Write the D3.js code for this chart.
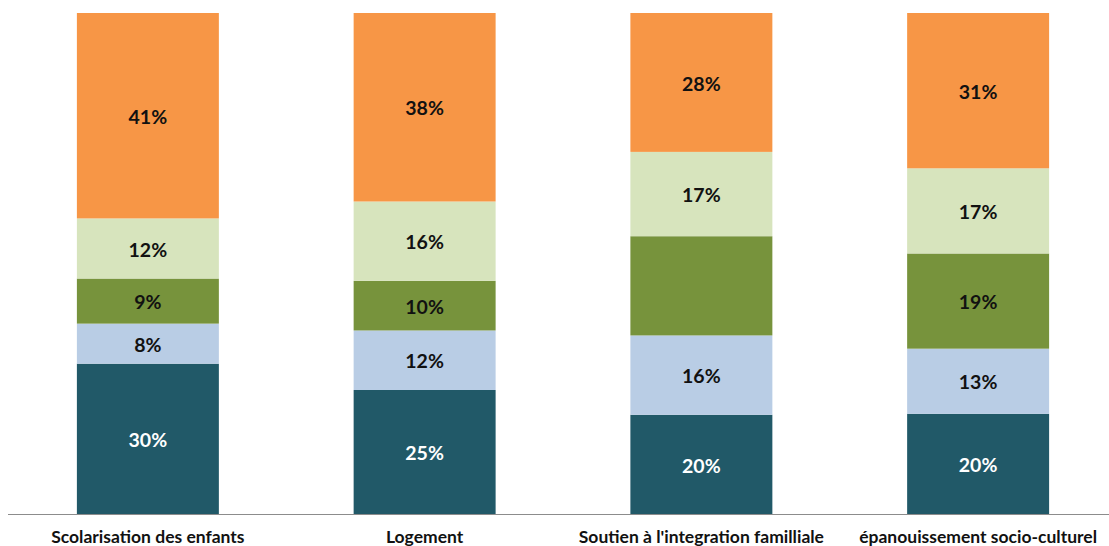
<!DOCTYPE html>
<html><head><meta charset="utf-8">
<script src="https://cdn.jsdelivr.net/npm/d3@7/dist/d3.min.js"></script>
<style>body{margin:0;background:#fff;}svg{display:block;}</style>
</head><body>
<svg id="chart" width="1109" height="546"></svg>
<script>
const categories = ["Scolarisation des enfants", "Logement", "Soutien à l'integration familliale", "épanouissement socio-culturel"];
const seriesKeys = ["s1", "s2", "s3", "s4", "s5"];
const s1 = [30, 25, 20, 20];
const s2 = [8, 12, 16, 13];
const s3 = [9, 10, 20, 19];
const s4 = [12, 16, 17, 17];
const s5 = [41, 38, 28, 31];
const showLabel = {s1:[true,true,true,true], s2:[true,true,true,true], s3:[true,true,false,true], s4:[true,true,true,true], s5:[true,true,true,true]};
const colors = ["#215968", "#b9cde5", "#77933c", "#d7e4bd", "#f79646"];
const labelColors = ["#ffffff", "#111111", "#111111", "#111111", "#111111"];

const vals = {s1, s2, s3, s4, s5};
const table = categories.map((c, i) => {
  const o = {cat: c, idx: i};
  seriesKeys.forEach(k => o[k] = vals[k][i]);
  return o;
});

const svg = d3.select("#chart");
const x = d3.scaleBand().domain(categories).range([9.5, 1116.5]).paddingInner(0.487).paddingOuter(0.2435);
const y = d3.scaleLinear().domain([0, 1]).range([514, 13]);

const stack = d3.stack().keys(seriesKeys).offset(d3.stackOffsetExpand);
const stacked = stack(table);

const groups = svg.selectAll("g.series").data(stacked).enter().append("g")
  .attr("fill", (d, i) => colors[i]);
groups.selectAll("rect").data(d => d).enter().append("rect")
  .attr("x", d => x(d.data.cat))
  .attr("width", x.bandwidth())
  .attr("y", d => y(d[1]))
  .attr("height", d => y(d[0]) - y(d[1]));

stacked.forEach((ser, si) => {
  svg.append("g").selectAll("text").data(ser.filter(d => showLabel[ser.key][d.data.idx])).enter().append("text")
    .attr("x", d => x(d.data.cat) + x.bandwidth() / 2)
    .attr("y", d => (y(d[0]) + y(d[1])) / 2)
    .attr("dy", "0.42em")
    .attr("text-anchor", "middle")
    .attr("font-family", "Lato, 'Open Sans', sans-serif")
    .attr("font-weight", "bold")
    .attr("font-size", "19.5px")
    .attr("fill", labelColors[si])
    .text(d => d.data[ser.key] + "%");
});

// baseline axis
svg.append("line").attr("x1", 8).attr("x2", 1109).attr("y1", 514.5).attr("y2", 514.5)
  .attr("stroke", "#8c8c8c").attr("stroke-width", 1.2);

const xAxis = d3.axisBottom(x).tickSize(0).tickPadding(0);
const ax = svg.append("g").attr("transform", "translate(0,514)").call(xAxis);
ax.select(".domain").remove();
ax.selectAll("text")
  .attr("y", 23)
  .attr("dy", "0.36em")
  .attr("font-family", "Lato, 'Open Sans', sans-serif")
  .attr("font-weight", "bold")
  .attr("font-size", "17.5px")
  .attr("fill", "#111");
</script>
</body></html>
